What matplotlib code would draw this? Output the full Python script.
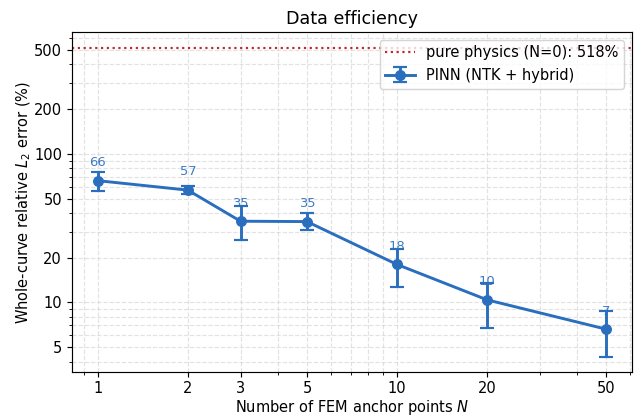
import matplotlib
matplotlib.use("Agg")
import matplotlib.pyplot as plt
from matplotlib.ticker import FixedLocator, FixedFormatter, NullFormatter

N = [1, 2, 3, 5, 10, 20, 50]
err_mean = [66, 57, 35.2, 35, 18, 10.4, 6.6]
err_low = [55.8, 54, 26.2, 30.9, 12.7, 6.7, 4.3]
err_high = [75.3, 61, 44.8, 40, 22.9, 13.6, 8.8]
pure_physics = 518
xticks = [1, 2, 3, 5, 10, 20, 50]
yticks = [5, 10, 20, 50, 100, 200, 500]

blue = "#2a6ebe"
DPI = 105
fig, ax = plt.subplots(figsize=(638 / DPI, 416 / DPI), dpi=DPI)
fig.subplots_adjust(left=72.3 / 638, right=631.7 / 638,
                    top=1 - 32.3 / 416, bottom=1 - 372.3 / 416)

ax.axhline(pure_physics, color="#c0282d", ls=":", lw=1.5,
           label=f"pure physics (N=0): {pure_physics}%")
yerr = [[m - l for m, l in zip(err_mean, err_low)],
        [h - m for m, h in zip(err_mean, err_high)]]
ax.errorbar(N, err_mean, yerr=yerr, color=blue, marker="o", ms=6.5, lw=2,
            capsize=4.5, elinewidth=2, capthick=1.5, label="PINN (NTK + hybrid)")
for x, y in zip(N, err_mean):
    ax.annotate(f"{y:.0f}", (x, y), xytext=(0, 8), textcoords="offset points",
                ha="center", va="bottom", fontsize=9, color=blue, alpha=0.9)

ax.set_xscale("log")
ax.set_yscale("log")
ax.xaxis.set_major_locator(FixedLocator(xticks))
ax.xaxis.set_major_formatter(FixedFormatter([str(t) for t in xticks]))
ax.xaxis.set_minor_formatter(NullFormatter())
ax.yaxis.set_major_locator(FixedLocator(yticks))
ax.yaxis.set_major_formatter(FixedFormatter([str(t) for t in yticks]))
ax.yaxis.set_minor_formatter(NullFormatter())
ax.tick_params(axis="x", pad=2.5)
ax.grid(True, which="both", ls="--", color="#d0d0d0", alpha=0.6, lw=0.8)

ax.set_xlabel("Number of FEM anchor points $N$", labelpad=1.5)
ax.set_ylabel("Whole-curve relative $L_2$ error (%)", labelpad=1)
ax.set_title("Data efficiency", fontsize=12)
ax.legend(loc="upper right", fontsize=10)
fig.savefig("out.png", dpi=DPI)
